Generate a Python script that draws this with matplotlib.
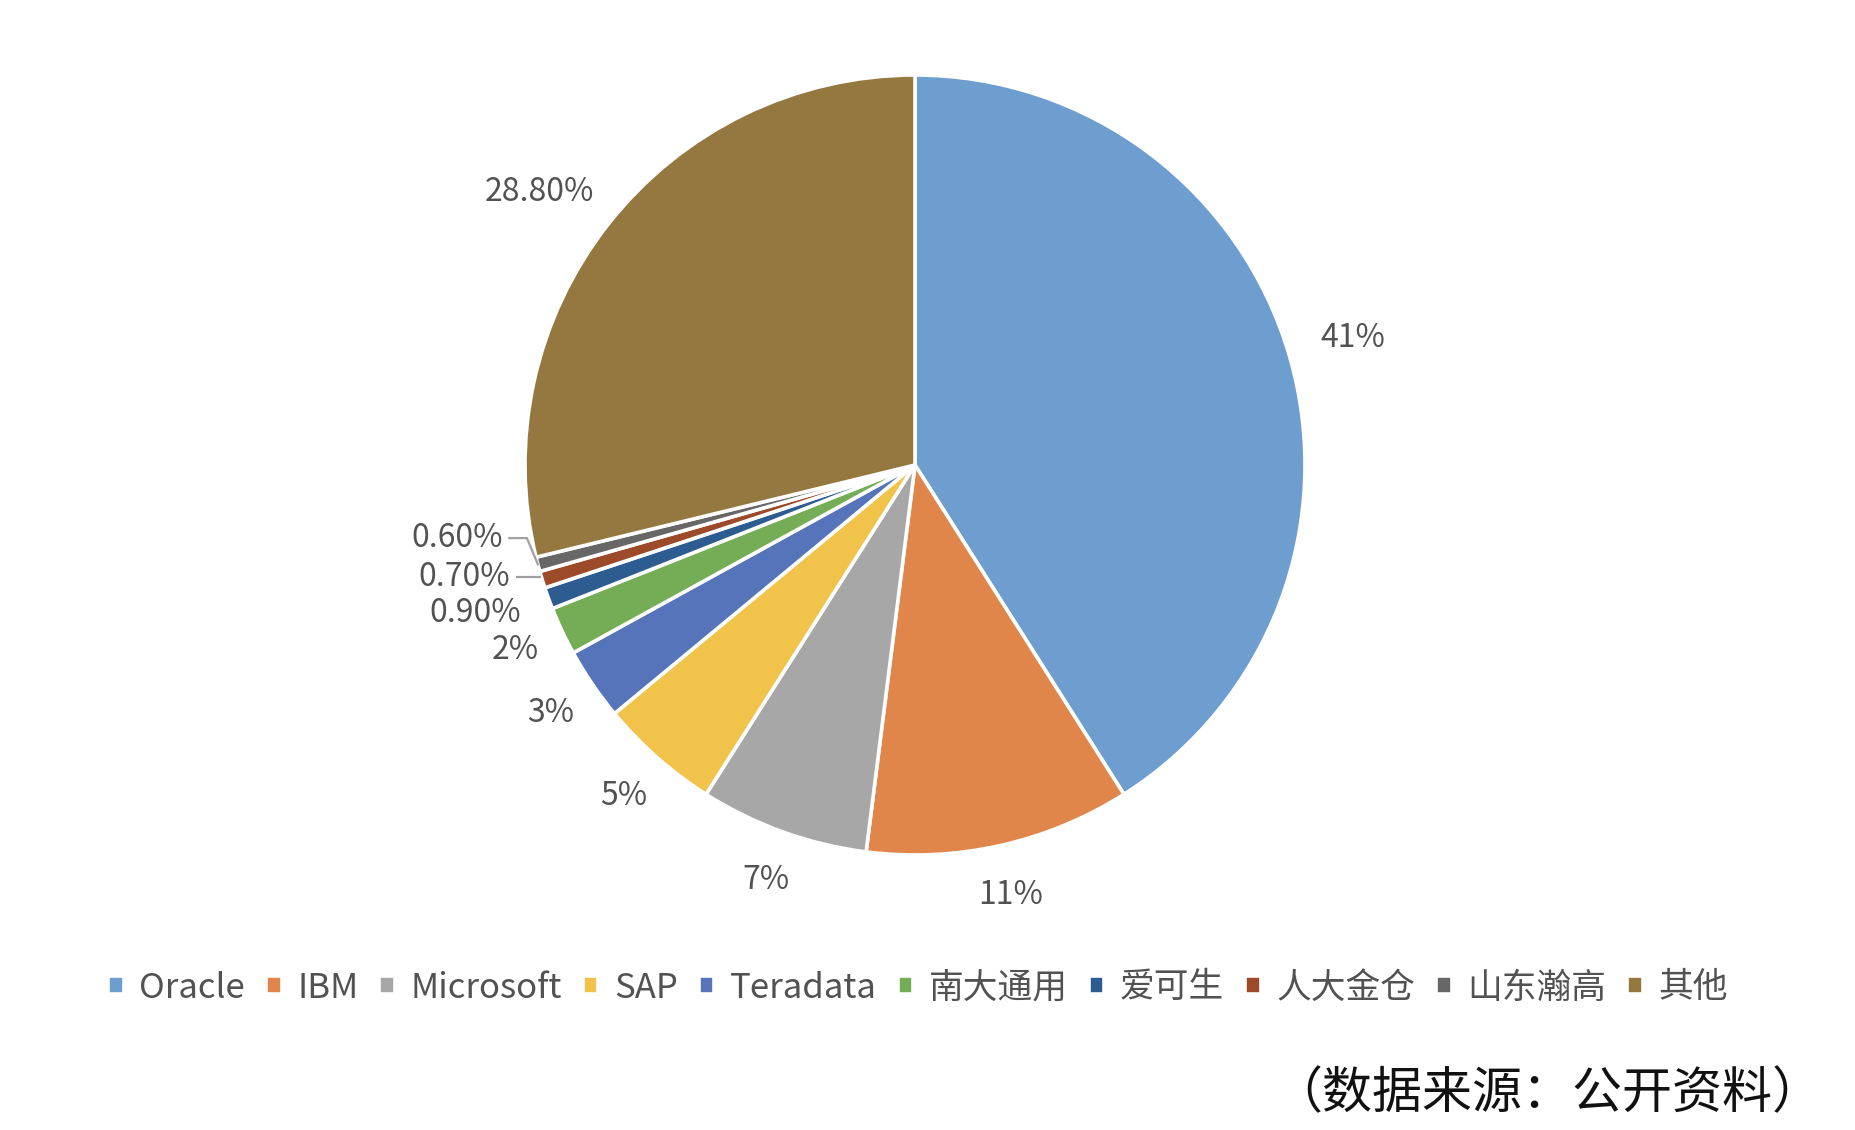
import numpy as np
import matplotlib
matplotlib.use("Agg")
import matplotlib.pyplot as plt

plt.rcParams['font.family'] = ['Noto Sans CJK SC', 'DejaVu Sans']

categories = ["Oracle", "IBM", "Microsoft", "SAP", "Teradata",
              "南大通用", "爱可生", "人大金仓", "山东瀚高", "其他"]
shares = [41, 11, 7, 5, 3, 2, 0.9, 0.7, 0.6, 28.8]
label_texts = ["41%", "11%", "7%", "5%", "3%", "2%",
               "0.90%", "0.70%", "0.60%", "28.80%"]
colors = ["#6E9DCF", "#E0864B", "#A7A7A7", "#F1C34B", "#5574B9",
          "#74AD56", "#2D5C91", "#9D4A2B", "#676767", "#94783F"]

# label placement (radius factor, angle offset in degrees)
label_r = [1.17, 1.13, 1.13, 1.13, 1.13, 1.13, 1.19, 1.19, 1.19, 1.19]
label_dang = [0, 0, 0, 0, 0, -0.4, -1.4, -3.1, -5.7, 2.2]

W, H = 1856, 1130
fig = plt.figure(figsize=(W / 100, H / 100), dpi=100)
cx, cy, R = 915, 465, 390
half = 450
ax = fig.add_axes([(cx - half) / W, (H - cy - half) / H, 2 * half / W, 2 * half / H])

wedges, _ = ax.pie(shares, colors=colors, startangle=90, counterclock=False,
                   wedgeprops=dict(edgecolor="white", linewidth=2.6))
lim = half / R
ax.set_xlim(-lim, lim)
ax.set_ylim(-lim, lim)
ax.set_aspect('equal')
ax.axis('off')

txt_color = "#525252"
for i, w in enumerate(wedges):
    mid = 0.5 * (w.theta1 + w.theta2)
    ang = np.deg2rad(mid + label_dang[i])
    x, y = label_r[i] * np.cos(ang), label_r[i] * np.sin(ang)
    ax.text(x, y, label_texts[i], ha="center", va="center",
            fontsize=23, color=txt_color, clip_on=False)
    if label_texts[i] in ("0.60%", "0.70%"):
        ma = np.deg2rad(mid)
        ex, ey = 1.0 * np.cos(ma), 1.0 * np.sin(ma)
        sx = x + 0.135
        if label_texts[i] == "0.60%":
            ax.plot([sx, sx + 0.045, ex], [y, y, ey], color="#A0A0A0",
                    lw=1.6, clip_on=False)
        else:
            ax.plot([sx, ex - 0.005], [y, y], color="#A0A0A0", lw=1.6,
                    clip_on=False)

leg = fig.legend(wedges, categories, loc="center", ncol=10,
                 bbox_to_anchor=(918 / W, 1 - 988 / H), frameon=False,
                 fontsize=25, handlelength=0.45, handleheight=0.45,
                 handletextpad=0.45, columnspacing=0.6, labelcolor=txt_color)

fig.text(1822 / W, 1 - 1094 / H, "（数据来源：公开资料）", ha="right", va="center",
         fontsize=36, color="#111111")

fig.savefig("out.png", dpi=100, facecolor="white")
